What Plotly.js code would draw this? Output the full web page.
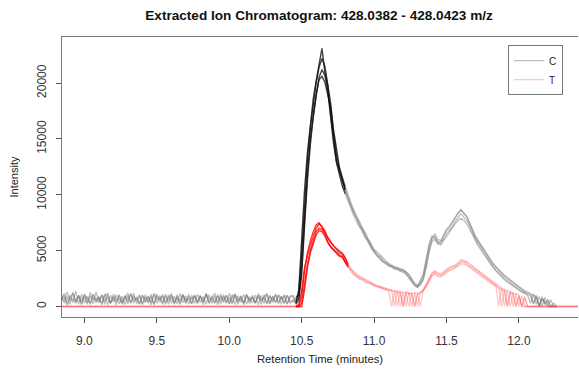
<!DOCTYPE html>
<html><head><meta charset="utf-8">
<script src="https://cdn.plot.ly/plotly-3.0.1.min.js"></script>
<style>html,body{margin:0;padding:0;background:#fff;overflow:hidden}</style>
</head><body><div id="chart" style="width:579px;height:372px"></div>
<script>
// Retention times (minutes)
const tBase = [8.84, 8.86, 8.88, 8.90, 8.92, 8.94, 8.96, 8.98, 9.00, 9.02,
  9.04, 9.06, 9.08, 9.10, 9.12, 9.14, 9.16, 9.18, 9.20, 9.22,
  9.24, 9.26, 9.28, 9.30, 9.32, 9.34, 9.36, 9.38, 9.40, 9.42,
  9.44, 9.46, 9.48, 9.50, 9.52, 9.54, 9.56, 9.58, 9.60, 9.62,
  9.64, 9.66, 9.68, 9.70, 9.72, 9.74, 9.76, 9.78, 9.80, 9.82,
  9.84, 9.86, 9.88, 9.90, 9.92, 9.94, 9.96, 9.98, 10.00, 10.02,
  10.04, 10.06, 10.08, 10.10, 10.12, 10.14, 10.16, 10.18, 10.20, 10.22,
  10.24, 10.26, 10.28, 10.30, 10.32, 10.34, 10.36, 10.38, 10.40, 10.42];
const tMain = [10.44, 10.46, 10.48, 10.50, 10.52, 10.54, 10.56, 10.58, 10.60, 10.62,
  10.64, 10.66, 10.68, 10.70, 10.72, 10.74, 10.76, 10.78, 10.80, 10.82,
  10.84, 10.86, 10.88, 10.90, 10.92, 10.94, 10.96, 10.98, 11.00, 11.02,
  11.04, 11.06, 11.08, 11.10, 11.12, 11.14, 11.16, 11.18, 11.20, 11.22,
  11.24, 11.26, 11.28, 11.30, 11.32, 11.34, 11.36, 11.38, 11.40, 11.42,
  11.44, 11.46, 11.48, 11.50, 11.52, 11.54, 11.56, 11.58, 11.60, 11.62,
  11.64, 11.66, 11.68, 11.70, 11.72, 11.74, 11.76, 11.78, 11.80, 11.82,
  11.84, 11.86, 11.88, 11.90, 11.92, 11.94, 11.96, 11.98, 12.00, 12.02,
  12.04, 12.06, 12.08, 12.10, 12.12, 12.14, 12.16, 12.18, 12.20, 12.22,
  12.24, 12.26];
const tEdge = [8.80, 12.60];
const edgeT = [0, 0];

// Group C: baseline noise before the peak
const baseC1 = [1100, 300, 900, 200, 1250, 450, 1000, 150, 1150, 350,
  950, 250, 1300, 400, 1000, 200, 1100, 300, 900, 150,
  1050, 380, 980, 220, 1150, 300, 870, 200, 1020, 330,
  940, 160, 1080, 280, 990, 350, 1120, 210, 900, 260,
  1050, 180, 980, 300, 1100, 240, 920, 370, 1000, 150,
  1140, 280, 960, 330, 1060, 200, 900, 260, 1180, 310,
  1000, 170, 950, 290, 1090, 230, 1010, 340, 920, 190,
  1050, 270, 980, 360, 1130, 210, 940, 250, 1020, 300];
const baseC2 = [400, 1200, 250, 1000, 350, 1400, 200, 1100, 300, 950,
  180, 1050, 320, 900, 260, 1150, 150, 1000, 380, 1080,
  240, 920, 160, 1000, 310, 1200, 230, 950, 140, 1050,
  300, 900, 210, 1120, 350, 980, 170, 1040, 280, 930,
  220, 1160, 330, 970, 190, 1010, 260, 1100, 340, 890,
  200, 1060, 290, 940, 150, 1130, 320, 990, 240, 1070,
  180, 960, 350, 1110, 210, 900, 300, 1040, 160, 1000,
  270, 1150, 230, 930, 310, 1020, 190, 1080, 250, 960];
const baseC3 = [800, 500, 1300, 600, 700, 300, 1000, 550, 850, 200,
  1250, 650, 750, 350, 1050, 500, 800, 250, 1100, 600,
  700, 300, 950, 450, 1150, 550, 650, 250, 1000, 500,
  850, 350, 1200, 600, 700, 200, 950, 500, 1050, 400,
  750, 300, 1100, 550, 650, 250, 1000, 450, 900, 350,
  1150, 600, 700, 300, 950, 500, 1050, 400, 800, 250,
  1100, 550, 700, 350, 1000, 450, 850, 300, 1150, 600,
  750, 250, 950, 500, 1050, 400, 800, 350, 1000, 500];
const baseC4 = [600, 1000, 100, 800, 1200, 400, 900, 250, 1050, 700,
  300, 1100, 500, 850, 150, 950, 1150, 350, 800, 450,
  1000, 200, 750, 1200, 300, 900, 600, 1050, 250, 850,
  400, 1100, 150, 950, 700, 1000, 350, 800, 1150, 200,
  900, 500, 1050, 300, 850, 650, 1000, 200, 950, 450,
  1100, 300, 800, 1200, 350, 900, 550, 1000, 250, 850,
  1100, 400, 950, 150, 1050, 600, 800, 300, 1000, 500,
  850, 1150, 250, 900, 400, 1050, 700, 950, 200, 800];

// Group C: peak region (on tMain)
const mainC1 = [600, 300, 1500, 6000, 10500, 13800, 16500, 18600, 20200, 21800,
  23100, 21000, 19800, 17200, 14800, 13000, 12100, 11200, 10500, 9700,
  9000, 8500, 7900, 7400, 6900, 6400, 5900, 5400, 5000, 4700,
  4500, 4200, 3900, 3800, 3600, 3500, 3400, 3300, 3200, 3100,
  2800, 2400, 2000, 1800, 2300, 2900, 4300, 5600, 6300, 6100,
  5800, 5600, 6300, 6800, 7000, 7500, 7900, 8300, 8700, 8300,
  8000, 7400, 6800, 6200, 5800, 5400, 4900, 4500, 4100, 3800,
  3500, 3200, 2900, 2700, 2500, 2300, 2100, 1900, 1700, 1500,
  1300, 1200, 1100, 300, 900, 100, 700, 200, 500, 0,
  300, 0];
const mainC2 = [900, 500, 800, 3500, 8200, 12000, 15000, 17200, 19000, 20300,
  20600, 20100, 19000, 17800, 15500, 13600, 12300, 11300, 10400, 9800,
  9100, 8300, 7900, 7200, 6900, 6200, 5900, 5200, 5000, 4500,
  4400, 4000, 3950, 3600, 3650, 3400, 3450, 3200, 3250, 2900,
  2600, 2200, 1850, 1700, 2000, 2500, 3600, 5000, 6000, 6300,
  5700, 5800, 6000, 6500, 6800, 7100, 7600, 7900, 8300, 8000,
  7700, 7200, 6600, 6000, 5600, 5200, 4800, 4300, 3900, 3600,
  3300, 3000, 2800, 2500, 2300, 2100, 1900, 1700, 1500, 1350,
  1200, 1000, 300, 1100, 800, 0, 900, 300, 600, 0,
  0, 0];
const mainC3 = [400, 800, 1100, 4800, 9500, 13200, 16000, 18200, 20000, 21400,
  22200, 21500, 20000, 18200, 15800, 13900, 12500, 11600, 10700, 10000,
  9300, 8700, 8000, 7600, 7000, 6600, 6000, 5600, 5100, 4900,
  4600, 4300, 4100, 3900, 3700, 3600, 3500, 3350, 3300, 3100,
  2900, 2500, 2100, 1900, 2200, 2800, 4100, 5400, 6200, 6500,
  6000, 5900, 6400, 6900, 7200, 7600, 8000, 8400, 8600, 8400,
  8100, 7500, 6900, 6300, 5900, 5500, 5000, 4600, 4200, 3900,
  3600, 3300, 3000, 2800, 2600, 2400, 2200, 2000, 1800, 1600,
  1400, 1300, 1150, 1000, 200, 900, 0, 800, 100, 600,
  0, 0];
const mainC4 = [1000, 200, 600, 2800, 7500, 11500, 14500, 17000, 18800, 20500,
  21200, 20700, 19300, 17000, 14600, 12900, 11800, 10800, 10100, 9400,
  8700, 8100, 7600, 7100, 6600, 6100, 5700, 5300, 4800, 4600,
  4200, 4000, 3800, 3700, 3500, 3350, 3300, 3150, 3050, 2950,
  2600, 2300, 1900, 1750, 1950, 2400, 3500, 4900, 5800, 6000,
  5600, 5500, 5900, 6300, 6600, 7000, 7400, 7700, 7900, 7700,
  7400, 6900, 6400, 5800, 5400, 5000, 4600, 4200, 3800, 3500,
  3200, 2900, 2700, 2400, 2200, 2000, 1800, 1600, 1450, 1300,
  1150, 1050, 950, 200, 1000, 0, 700, 300, 0, 0,
  0, 0];

// Group T: peak region (on tMain)
const mainT1 = [0, 0, 0, 900, 3200, 4800, 5900, 6700, 7300, 7500,
  7200, 6800, 6100, 5700, 5400, 5200, 5000, 4800, 4400, 3800,
  3400, 3100, 2900, 2700, 2550, 2400, 2250, 2150, 2000, 1900,
  1800, 1700, 1600, 1550, 1500, 0, 1400, 1350, 0, 1300,
  1250, 0, 1250, 1200, 0, 1550, 2000, 2500, 3000, 3200,
  3000, 2900, 3100, 3300, 3500, 3600, 3700, 3900, 4200, 4100,
  4000, 3800, 3600, 3400, 3200, 3000, 2800, 2600, 2400, 2200,
  2000, 1850, 1700, 0, 1450, 1350, 0, 1150, 1050, 0,
  900, 0, 0, 0, 0, 0, 0, 0, 0, 0,
  0, 0];
const mainT2 = [0, 0, 0, 300, 2000, 3800, 5000, 5900, 6700, 7000,
  6900, 6500, 5800, 5400, 5100, 4800, 4600, 4500, 4100, 3600,
  3200, 2900, 2700, 2500, 2450, 2200, 2150, 2000, 1900, 1800,
  1700, 1600, 1500, 1450, 1400, 1350, 0, 1300, 1250, 0,
  1200, 1150, 0, 1150, 1250, 1450, 1800, 2300, 2800, 3000,
  2800, 2700, 2900, 3100, 3300, 3400, 3500, 3700, 3900, 3950,
  3800, 3600, 3400, 3200, 3000, 2800, 2600, 2400, 2200, 2050,
  1900, 1750, 0, 1500, 1350, 0, 1200, 1100, 0, 950,
  0, 0, 0, 0, 0, 0, 0, 0, 0, 0,
  0, 0];
const mainT3 = [0, 0, 200, 1400, 3500, 4600, 5500, 6300, 7000, 7400,
  7100, 6600, 6200, 5800, 5500, 5100, 4800, 4700, 4300, 3700,
  3300, 3000, 2800, 2650, 2500, 2350, 2200, 2100, 1950, 1850,
  1750, 1650, 1550, 1500, 1450, 1400, 1350, 0, 1300, 1250,
  0, 1200, 1200, 0, 1300, 1500, 1950, 2450, 2950, 3150,
  2950, 2850, 3050, 3250, 3450, 3550, 3650, 3850, 4050, 4050,
  3950, 3750, 3550, 3350, 3150, 2950, 2750, 2550, 2350, 2150,
  1950, 0, 1650, 1500, 0, 1300, 1200, 0, 1000, 0,
  800, 0, 0, 0, 0, 0, 0, 0, 0, 0,
  0, 0];
const mainT4 = [0, 0, 0, 0, 1500, 3500, 4800, 5700, 6400, 6800,
  6700, 6300, 5700, 5300, 5000, 4700, 4500, 4400, 4000, 3500,
  3100, 2850, 2650, 2450, 2350, 2150, 2100, 1950, 1850, 1750,
  1650, 1550, 1450, 1400, 0, 1300, 1250, 1250, 0, 1200,
  1150, 1150, 0, 1100, 1200, 1400, 1750, 2200, 2700, 2900,
  2700, 2650, 2850, 3000, 3200, 3300, 3450, 3650, 3800, 3800,
  3700, 3500, 3300, 3100, 2900, 2700, 2500, 2300, 2100, 1950,
  1800, 1650, 1550, 1400, 0, 1250, 1150, 0, 950, 0,
  0, 0, 0, 0, 0, 0, 0, 0, 0, 0,
  0, 0];

const groupNames = ["C", "T"];
const xTickVals = [9.0, 9.5, 10.0, 10.5, 11.0, 11.5, 12.0];
const xTickText = ["9.0", "9.5", "10.0", "10.5", "11.0", "11.5", "12.0"];
const yTickVals = [0, 5000, 10000, 15000, 20000];
const yTickText = ["0", "5000", "10000", "15000", "20000"];
const peakWindowC = [10.46, 10.80];
const peakWindowT = [10.46, 10.82];

const baseC = [baseC1, baseC2, baseC3, baseC4];
const mainC = [mainC1, mainC2, mainC3, mainC4];
const mainT = [mainT1, mainT2, mainT3, mainT4];

function windowed(x, y, w) {
  const xs = [], ys = [];
  for (let i = 0; i < x.length; i++) {
    if (x[i] >= w[0] && x[i] <= w[1]) { xs.push(x[i]); ys.push(y[i]); }
  }
  return [xs, ys];
}

const GRAY = 'rgba(110,110,110,0.45)';
const BLACK = 'rgba(10,10,10,0.7)';
const PINK = 'rgba(255,80,80,0.32)';
const RED = 'rgba(255,0,0,0.75)';
const LW = 1.3;

const traces = [];
mainC.forEach((m, i) => {
  traces.push({
    x: tBase.concat(tMain), y: baseC[i].concat(m), type: 'scatter', mode: 'lines',
    line: {color: GRAY, width: LW}, name: groupNames[0], legendgroup: 'C',
    showlegend: i === 0, hoverinfo: 'skip'
  });
});
mainC.forEach((m) => {
  const [xs, ys] = windowed(tMain, m, peakWindowC);
  traces.push({x: xs, y: ys, type: 'scatter', mode: 'lines',
    line: {color: BLACK, width: LW}, showlegend: false, hoverinfo: 'skip'});
});
mainT.forEach((m, i) => {
  traces.push({
    x: [tEdge[0]].concat(tMain, [tEdge[1]]), y: [edgeT[0]].concat(m, [edgeT[1]]),
    type: 'scatter', mode: 'lines', line: {color: PINK, width: LW},
    name: groupNames[1], legendgroup: 'T', showlegend: i === 0, hoverinfo: 'skip'
  });
});
mainT.forEach((m) => {
  const [xs, ys] = windowed(tMain, m, peakWindowT);
  traces.push({x: xs, y: ys, type: 'scatter', mode: 'lines',
    line: {color: RED, width: LW}, showlegend: false, hoverinfo: 'skip'});
});

const FONT = 'Liberation Sans, Arial, Helvetica, sans-serif';
const layout = {
  width: 579, height: 372,
  margin: {l: 62, r: 1, t: 37, b: 55},
  paper_bgcolor: '#fff', plot_bgcolor: '#fff',
  font: {family: FONT, size: 11, color: '#222'},
  title: {text: 'Extracted Ion Chromatogram: 428.0382 - 428.0423 m/z',
    font: {family: FONT, size: 13.6, weight: 'bold', color: '#111'},
    x: 0.551, xanchor: 'center', y: 0.96, yanchor: 'middle', xref: 'container', yref: 'container'},
  xaxis: {
    range: [8.845, 12.408], tickvals: xTickVals, ticktext: xTickText,
    ticks: 'outside', ticklen: 5, tickcolor: '#555', tickwidth: 1,
    showline: true, mirror: true, linecolor: '#777', linewidth: 1,
    showgrid: false, zeroline: false, automargin: false,
    tickfont: {family: FONT, size: 12, color: '#333'}, ticklabelstandoff: 8,
    title: {text: 'Retention Time (minutes)', font: {family: FONT, size: 11.3, color: '#222'}, standoff: 7}
  },
  yaxis: {
    range: [-940, 24120], tickvals: yTickVals, ticktext: yTickText, tickangle: -90,
    ticks: 'outside', ticklen: 5, tickcolor: '#555', tickwidth: 1,
    showline: true, mirror: false, linecolor: '#777', linewidth: 1,
    showgrid: false, zeroline: false, automargin: false,
    tickfont: {family: FONT, size: 12, color: '#333'}, ticklabelstandoff: 5,
    title: {text: 'Intensity', font: {family: FONT, size: 11, color: '#222'}, standoff: 14}
  },
  showlegend: true,
  legend: {x: 0.971, y: 0.971, xanchor: 'right', yanchor: 'top',
    bgcolor: '#fff', bordercolor: '#777', borderwidth: 1,
    font: {family: FONT, size: 10, color: '#222'}, tracegroupgap: 0, itemwidth: 30}
};
Plotly.newPlot('chart', traces, layout, {staticPlot: true, displayModeBar: false});
</script>
</body></html>
